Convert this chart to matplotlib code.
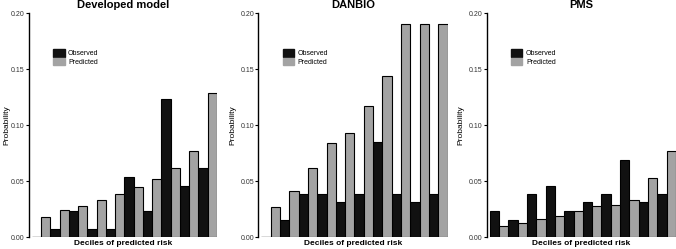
import numpy as np
import matplotlib
matplotlib.use("Agg")
import matplotlib.pyplot as plt
from matplotlib.patches import Patch

plt.rcParams['font.family'] = ['Liberation Sans', 'DejaVu Sans']

deciles = np.arange(1, 11)
titles = ["Developed model", "DANBIO", "PMS"]

dev_observed = [0.0, 0.0075, 0.023, 0.0075, 0.0075, 0.054, 0.023, 0.123, 0.046, 0.0615]
dev_predicted = [0.018, 0.024, 0.028, 0.033, 0.038, 0.0445, 0.052, 0.0615, 0.077, 0.1287]

danbio_observed = [0.0, 0.015, 0.0385, 0.0385, 0.031, 0.0385, 0.085, 0.0385, 0.031, 0.0385]
danbio_predicted = [0.027, 0.041, 0.062, 0.084, 0.093, 0.117, 0.1436, 0.19, 0.19, 0.19]

pms_observed = [0.023, 0.015, 0.0385, 0.046, 0.023, 0.031, 0.0385, 0.069, 0.031, 0.0385]
pms_predicted = [0.0095, 0.0125, 0.0164, 0.0185, 0.0233, 0.0278, 0.029, 0.0334, 0.053, 0.077]

observed = [dev_observed, danbio_observed, pms_observed]
predicted = [dev_predicted, danbio_predicted, pms_predicted]

W, H = 676, 249
fig = plt.figure(figsize=(W / 100, H / 100), dpi=100)

# panel placement in pixels: (left spine x, right edge x)
panels = [(29, 217), (258.3, 447.7), (486.7, 676)]
ylab_right = [10, 236, 464]
bottom_px, top_px = 237, 13.3

black = "#111111"
grey = "#a3a3a3"
w = 0.5

for k, (l, r) in enumerate(panels):
    ax = fig.add_axes([l / W, 1 - bottom_px / H, (r - l) / W, (bottom_px - top_px) / H])
    x = deciles - 1
    ax.hlines(0, -0.5, 9.5, color="#888888", lw=1.0, zorder=1)
    ax.bar(x - w / 2, observed[k], width=w, color=black, edgecolor="black", lw=0.8, zorder=2)
    ax.bar(x + w / 2, predicted[k], width=w, color=grey, edgecolor="black", lw=0.8, zorder=2)
    ax.set_xlim(-0.66, 9.5)
    ax.set_ylim(0, 0.2)
    for s in ["top", "right", "bottom"]:
        ax.spines[s].set_visible(False)
    ax.spines["left"].set_linewidth(1.0)
    ax.set_xticks([])
    ax.set_yticks([0, 0.05, 0.10, 0.15, 0.20])
    ax.set_yticklabels(["0.00", "0.05", "0.10", "0.15", "0.20"])
    ax.tick_params(axis="y", labelsize=5, length=2, width=0.8, pad=1, labelcolor="#333333")
    ax.set_title(titles[k], fontsize=8, fontweight="bold", pad=4)
    ax.set_xlabel("Deciles of predicted risk", fontsize=6, fontweight="bold", labelpad=2)
    ax.set_ylabel("Probability", fontsize=6)
    ax.yaxis.set_label_coords((ylab_right[k] - l) / (r - l), 0.5)
    handles = [Patch(facecolor=black, edgecolor=black), Patch(facecolor=grey, edgecolor=grey)]
    ax.legend(handles, ["Observed", "Predicted"], loc="upper left",
              bbox_to_anchor=(0.13, 0.84), frameon=False, fontsize=5,
              handlelength=1.6, handleheight=1.3, labelspacing=0.05,
              handletextpad=0.5, borderpad=0, borderaxespad=0)

fig.savefig("out.png", dpi=100)
